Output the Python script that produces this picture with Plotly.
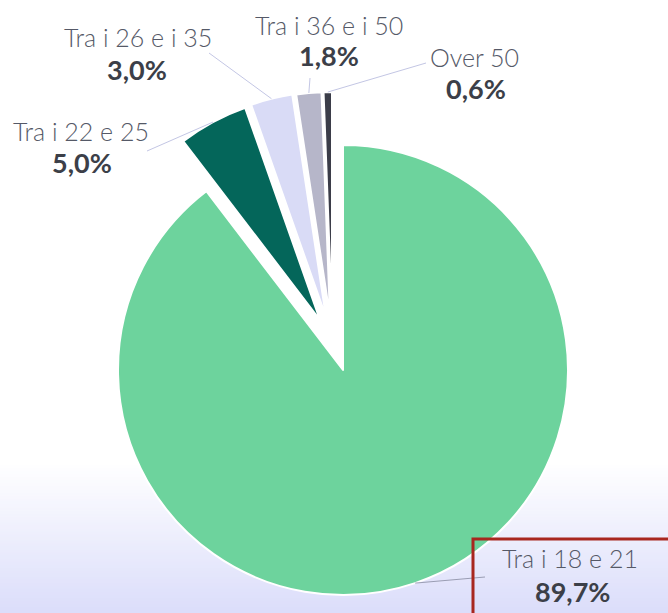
import math
import plotly.graph_objects as go

W, H = 668, 613

# ---- data ----
labels = ["Tra i 18 e 21", "Tra i 22 e 25", "Tra i 26 e i 35", "Tra i 36 e i 50", "Over 50"]
values = [89.7, 5.0, 3.0, 1.8, 0.6]
pct_text = ["89,7%", "5,0%", "3,0%", "1,8%", "0,6%"]

# ---- style ----
colors = ["#6dd39d", "#04665a", "#d9dbf6", "#b6b6c9", "#3b3d49"]
R = 225
center = (343, 370)
# exploded offsets (px) for each slice
offsets = [(0, 0), (-23, -50), (-17, -53), (-13, -53), (-11, -53)]
# label anchor positions (px): (label center, percent center, leader end)
label_pos = [
    ((570, 558), (572, 591), (485, 577)),
    ((81, 131), (82, 162), (147, 151)),
    ((138, 37), (137, 70), (209, 53)),
    ((329, 25), (329, 56), (310, 78)),
    ((474, 57), (476, 89), (426, 63)),
]
TRANSP = "rgba(0,0,0,0)"

fig = go.Figure()


def dom(cx, cy, r):
    return dict(x=[(cx - r) / W, (cx + r) / W], y=[(H - cy - r) / H, (H - cy + r) / H])


total = sum(values)
cum = 0
mids = []
for v in values:
    mids.append((cum + v / 2) / total * 360)
    cum += v

for i in range(len(values)):
    cx, cy = center[0] + offsets[i][0], center[1] + offsets[i][1]
    cols = [colors[j] if j == i else TRANSP for j in range(len(values))]
    lcols = ["white" if j == i else TRANSP for j in range(len(values))]
    fig.add_trace(go.Pie(
        labels=labels, values=values, sort=False, direction="clockwise", rotation=0,
        marker=dict(colors=cols, line=dict(color=lcols, width=2)),
        textinfo="none", showlegend=False, domain=dom(cx, cy, R),
        hovertemplate="%{label}: %{percent}<extra></extra>",
    ))

shapes = []
# background gradient
y0 = 462
steps = 50
top_c = (255, 255, 255)
bot_c = (219, 221, 250)
for k in range(steps):
    ya = y0 + (H - y0) * k / steps
    yb = y0 + (H - y0) * (k + 1) / steps + 0.5
    t = (k + 0.5) / steps
    c = tuple(round(top_c[n] + (bot_c[n] - top_c[n]) * t) for n in range(3))
    shapes.append(dict(type="rect", xref="paper", yref="paper", x0=0, x1=1,
                       y0=1 - yb / H, y1=1 - ya / H, fillcolor="rgb(%d,%d,%d)" % c,
                       line=dict(width=0), layer="below"))

annotations = []
for i in range(len(values)):
    cx, cy = center[0] + offsets[i][0], center[1] + offsets[i][1]
    a = math.radians(mids[i])
    sx, sy = cx + R * math.sin(a), cy - R * math.cos(a)
    (lx, ly), (px, py), (ex, ey) = label_pos[i]
    shapes.append(dict(type="line", xref="paper", yref="paper",
                       x0=sx / W, y0=1 - sy / H, x1=ex / W, y1=1 - ey / H,
                       line=dict(color="#9a9db3" if i == 0 else "#c3c6e4", width=1), layer="above"))
    annotations.append(dict(text=labels[i], x=lx / W, y=1 - ly / H, xref="paper", yref="paper",
                            xanchor="center", yanchor="middle", showarrow=False,
                            font=dict(family="Lato", size=25, color="#555967", weight=300)))
    annotations.append(dict(text="<b>" + pct_text[i] + "</b>", x=px / W, y=1 - py / H, xref="paper",
                            yref="paper", xanchor="center", yanchor="middle", showarrow=False,
                            font=dict(family="Lato", size=27, color="#3c3f48")))

# highlight box
shapes.append(dict(type="rect", xref="paper", yref="paper", x0=473 / W, x1=690 / W,
                   y0=1 - 640 / H, y1=1 - 539 / H, line=dict(color="#a8271f", width=3),
                   fillcolor=TRANSP, layer="above"))

fig.update_layout(width=W, height=H, margin=dict(l=0, r=0, t=0, b=0),
                  paper_bgcolor="white", plot_bgcolor="white",
                  shapes=shapes, annotations=annotations)
fig.write_html("out.html", config={"displayModeBar": False},
               post_script="document.body.style.margin='0';document.body.style.overflow='hidden';")
